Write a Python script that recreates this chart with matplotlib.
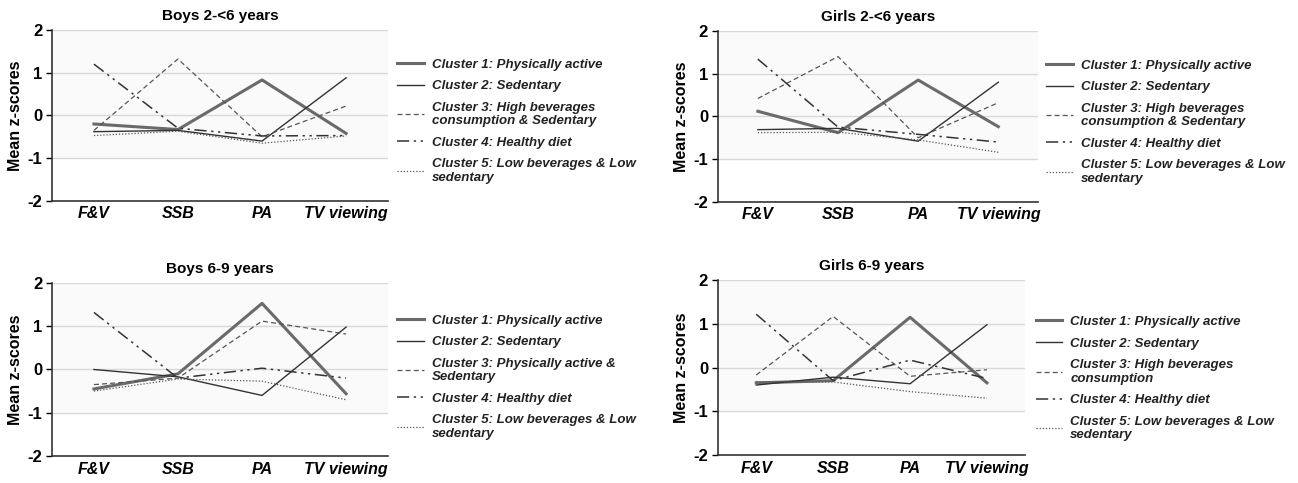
import matplotlib
matplotlib.use("Agg")
import matplotlib.pyplot as plt

# Категории по оси X и подписи кластеров
categories = ["F&V", "SSB", "PA", "TV viewing"]
titles = ["Boys 2-<6 years", "Girls 2-<6 years", "Boys 6-9 years", "Girls 6-9 years"]

labels_boys_small = ["Cluster 1: Physically active", "Cluster 2: Sedentary",
                     "Cluster 3: High beverages\nconsumption & Sedentary",
                     "Cluster 4: Healthy diet", "Cluster 5: Low beverages & Low\nsedentary"]
labels_girls_small = labels_boys_small
labels_boys_big = ["Cluster 1: Physically active", "Cluster 2: Sedentary",
                   "Cluster 3: Physically active &\nSedentary",
                   "Cluster 4: Healthy diet", "Cluster 5: Low beverages & Low\nsedentary"]
labels_girls_big = ["Cluster 1: Physically active", "Cluster 2: Sedentary",
                    "Cluster 3: High beverages\nconsumption",
                    "Cluster 4: Healthy diet", "Cluster 5: Low beverages & Low\nsedentary"]

# Средние z-оценки (кластеры 1..5)
boys_small = [
    [-0.20, -0.33, 0.83, -0.42],
    [-0.38, -0.35, -0.60, 0.88],
    [-0.35, 1.32, -0.50, 0.22],
    [1.20, -0.30, -0.48, -0.47],
    [-0.47, -0.37, -0.65, -0.48],
]
girls_small = [
    [0.12, -0.38, 0.85, -0.24],
    [-0.31, -0.28, -0.58, 0.80],
    [0.42, 1.40, -0.50, 0.32],
    [1.34, -0.25, -0.42, -0.60],
    [-0.38, -0.37, -0.55, -0.84],
]
boys_big = [
    [-0.45, -0.10, 1.53, -0.56],
    [0.00, -0.17, -0.60, 0.98],
    [-0.35, -0.20, 1.12, 0.82],
    [1.32, -0.20, 0.03, -0.20],
    [-0.50, -0.22, -0.27, -0.70],
]
girls_big = [
    [-0.35, -0.30, 1.15, -0.35],
    [-0.40, -0.22, -0.37, 0.98],
    [-0.17, 1.17, -0.20, -0.05],
    [1.22, -0.30, 0.17, -0.25],
    [-0.32, -0.33, -0.55, -0.70],
]

# Стили линий для кластеров
styles = [
    dict(color="#6a6a6a", lw=2.2, ls="-"),
    dict(color="#333333", lw=1.0, ls="-"),
    dict(color="#555555", lw=0.9, ls=(0, (4, 2.5))),
    dict(color="#333333", lw=1.1, ls=(0, (8, 3, 1.5, 3, 1.5, 3))),
    dict(color="#555555", lw=0.9, ls=(0, (1, 1.5))),
]

fig = plt.figure(figsize=(12.98, 4.83), dpi=100)
plt.rcParams["font.family"] = "Liberation Sans"

# Позиции осей и легенд (в долях фигуры)
axes_pos = [
    [0.040, 0.584, 0.259, 0.354],
    [0.553, 0.582, 0.247, 0.354],
    [0.040, 0.056, 0.259, 0.358],
    [0.553, 0.058, 0.237, 0.362],
]
legend_pos = [(0.302, 0.890), (0.802, 0.888), (0.302, 0.360), (0.794, 0.357)]
data_sets = [boys_small, girls_small, boys_big, girls_big]
label_sets = [labels_boys_small, labels_girls_small, labels_boys_big, labels_girls_big]

x = [0.5, 1.5, 2.5, 3.5]
for pos, title, data, labels, lpos in zip(axes_pos, titles, data_sets, label_sets, legend_pos):
    ax = fig.add_axes(pos)
    ax.axhspan(-1, 2, color="#fafafa", zorder=0)
    for yv in [2, 1, 0, -1]:
        ax.axhline(yv, color="#d8d8d8", lw=1.0, zorder=1)
    handles = []
    for vals, st, lab in zip(data, styles, labels):
        h, = ax.plot(x, vals, label=lab, zorder=3, **st)
        handles.append(h)
    ax.set_xlim(0, 4)
    ax.set_ylim(-2, 2)
    ax.set_yticks([-2, -1, 0, 1, 2])
    ax.set_yticklabels(["-2", "-1", "0", "1", "2"], fontsize=12, fontweight="bold")
    ax.set_xticks(x)
    ax.set_xticklabels(categories, fontsize=11.5, fontweight="bold", style="italic")
    ax.tick_params(axis="x", length=0, pad=4)
    ax.tick_params(axis="y", length=4, width=1, direction="out", pad=3)
    ax.spines["top"].set_visible(False)
    ax.spines["right"].set_visible(False)
    ax.spines["left"].set_color("#333333")
    ax.spines["bottom"].set_color("#333333")
    ax.spines["left"].set_linewidth(1.2)
    ax.spines["bottom"].set_linewidth(1.2)
    ax.set_ylabel("Mean z-scores", fontsize=11.5, fontweight="bold", labelpad=3)
    ax.set_title(title, fontsize=11, fontweight="bold", pad=7)
    leg = ax.legend(handles=handles, loc="upper left", bbox_to_anchor=lpos,
                    bbox_transform=fig.transFigure, frameon=False,
                    prop=dict(size=9.5, weight="bold", style="italic"),
                    handlelength=2.0, handletextpad=0.6, labelspacing=0.72,
                    borderaxespad=0)
    for t in leg.get_texts():
        t.set_color("#222222")
        t.set_linespacing(1.15)

fig.savefig("out.png", dpi=100)
